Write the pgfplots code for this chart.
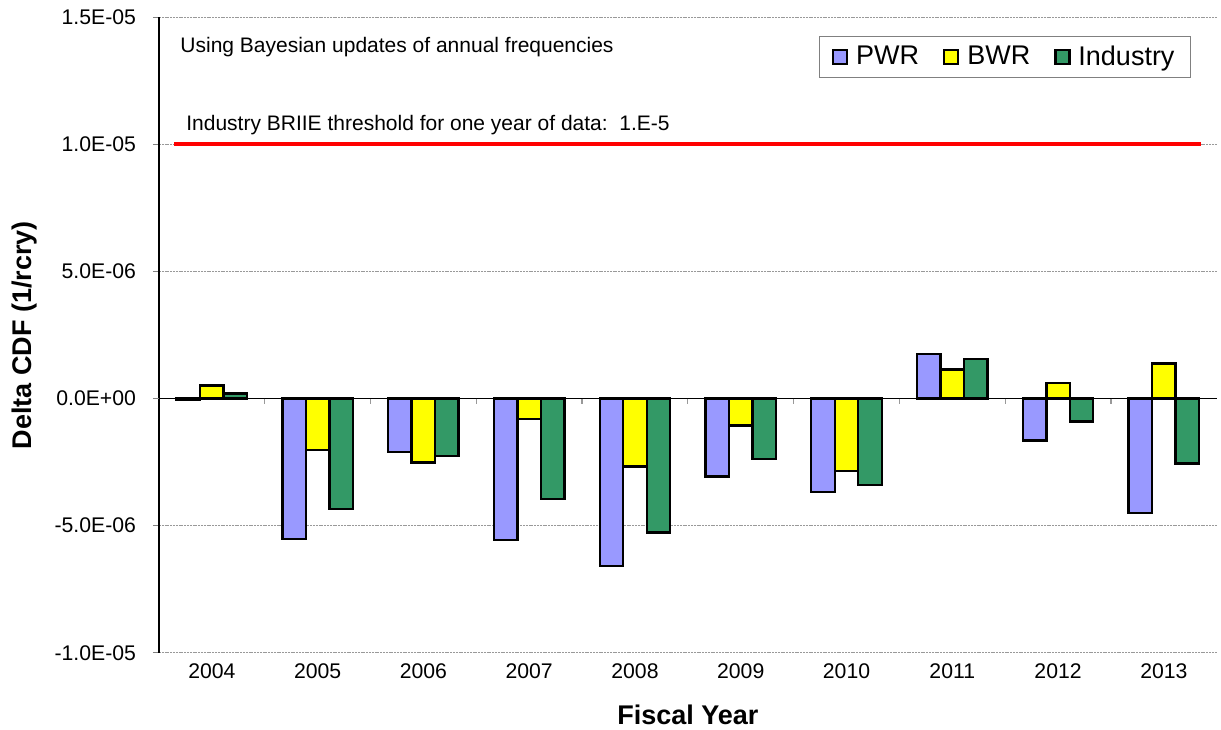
\documentclass[border=0pt]{standalone}
\usepackage{fontspec}
\setmainfont{Liberation Sans}
\usepackage{pgfplots}
\pgfplotsset{compat=1.18}
\definecolor{pwr}{HTML}{9999FF}
\definecolor{bwr}{HTML}{FFFF00}
\definecolor{ind}{HTML}{339966}

\begin{document}
\begin{tikzpicture}
  \path[use as bounding box] (-79.5pt,-38.15pt) rectangle (531pt,326.35pt);
  \begin{axis}[
    at={(0,0)}, anchor=south west,
    scale only axis,
    width=528.85pt, height=317.7pt,
    xmin=-0.5, xmax=9.5,
    ymin=-1e-5, ymax=1.5e-5,
    axis y line*=left, axis x line*=bottom,
    x axis line style={draw=none},
    y axis line style={-, black, line width=0.6pt},
    xtick={0,...,9},
    xticklabels={2004,2005,2006,2007,2008,2009,2010,2011,2012,2013},
    x tick style={draw=none},
    xticklabel style={anchor=center, yshift=-9pt, font=\fontsize{10.6pt}{12pt}\selectfont},
    ytick={-1e-5,-5e-6,5e-6,1e-5,1.5e-5},
    yticklabels={-1.0E-05,-5.0E-06,5.0E-06,1.0E-05,1.5E-05},
    extra y ticks={0},
    extra y tick labels={0.0E+00},
    extra y tick style={grid=major, major grid style={black, solid, line width=0.6pt}},
    scaled y ticks=false,
    ytick align=outside,
    major tick length=3pt,
    y tick style={gray, line width=0.5pt},
    yticklabel style={anchor=east, xshift=-5pt, font=\fontsize{10.6pt}{12pt}\selectfont},
    ymajorgrids,
    major grid style={gray!80, dash pattern=on 1pt off 0.4pt, line width=0.6pt},
    xlabel={\bfseries Fiscal Year},
    ylabel={\bfseries Delta CDF (1/rcry)},
    label style={font=\fontsize{13.5pt}{16pt}\selectfont},
    xlabel style={at={(rel axis cs:0.5,-0.098)}, anchor=center},
    ylabel style={at={(rel axis cs:-0.127,0.5)}, anchor=center},
    legend columns=3,
    legend style={at={(rel axis cs:0.9757,0.9706)}, anchor=north east,
      draw=gray, line width=0.5pt, font=\fontsize{13.5pt}{15pt}\selectfont,
      inner xsep=6pt, inner ysep=2.5pt,
      /tikz/every even column/.append style={column sep=10pt}},
    legend image code/.code={
      \draw[#1] (-3.5pt,-3.5pt) rectangle (3.5pt,3.5pt);
      \path[draw=none, fill=none] (0pt,0pt) -- (6pt,0pt);},
    every axis plot/.append style={ybar, bar width=0.222, draw=black, line width=1.2pt},
  ]

  % PWR
  \addplot[fill=pwr, bar shift=-0.222] coordinates {
  (0,-0.03e-6) (1,-5.53e-6) (2,-2.10e-6) (3,-5.56e-6) (4,-6.59e-6)
  (5,-3.06e-6) (6,-3.67e-6) (7,1.76e-6) (8,-1.65e-6) (9,-4.51e-6)
  };

  % BWR
  \addplot[fill=bwr, bar shift=0] coordinates {
  (0,0.52e-6) (1,-2.03e-6) (2,-2.51e-6) (3,-0.80e-6) (4,-2.67e-6)
  (5,-1.06e-6) (6,-2.85e-6) (7,1.14e-6) (8,0.60e-6) (9,1.38e-6)
  };

  % Industry
  \addplot[fill=ind, bar shift=0.222] coordinates {
  (0,0.20e-6) (1,-4.35e-6) (2,-2.26e-6) (3,-3.95e-6) (4,-5.27e-6)
  (5,-2.38e-6) (6,-3.39e-6) (7,1.55e-6) (8,-0.90e-6) (9,-2.55e-6)
  };

  \legend{PWR, BWR, Industry}

  % threshold
  \addplot[sharp plot, red, line width=2pt, forget plot] coordinates {(-0.358,1e-5) (9.349,1e-5)};

  \pgfplotsinvokeforeach{0.5,1.5,...,8.5}{
    \draw[gray!80, line width=0.6pt] (axis cs:#1,0) -- ([yshift=-2.7pt]axis cs:#1,0);
  }

  \node[anchor=west, inner sep=0pt, font=\fontsize{10.5pt}{12pt}\selectfont]
    at (rel axis cs:0.0199,0.953) {Using Bayesian updates of annual frequencies};
  \node[anchor=west, inner sep=0pt, font=\fontsize{10.5pt}{12pt}\selectfont]
    at (rel axis cs:0.0255,0.8305) {Industry BRIIE threshold for one year of data:\ \ 1.E-5};
  \end{axis}
\end{tikzpicture}
\end{document}
